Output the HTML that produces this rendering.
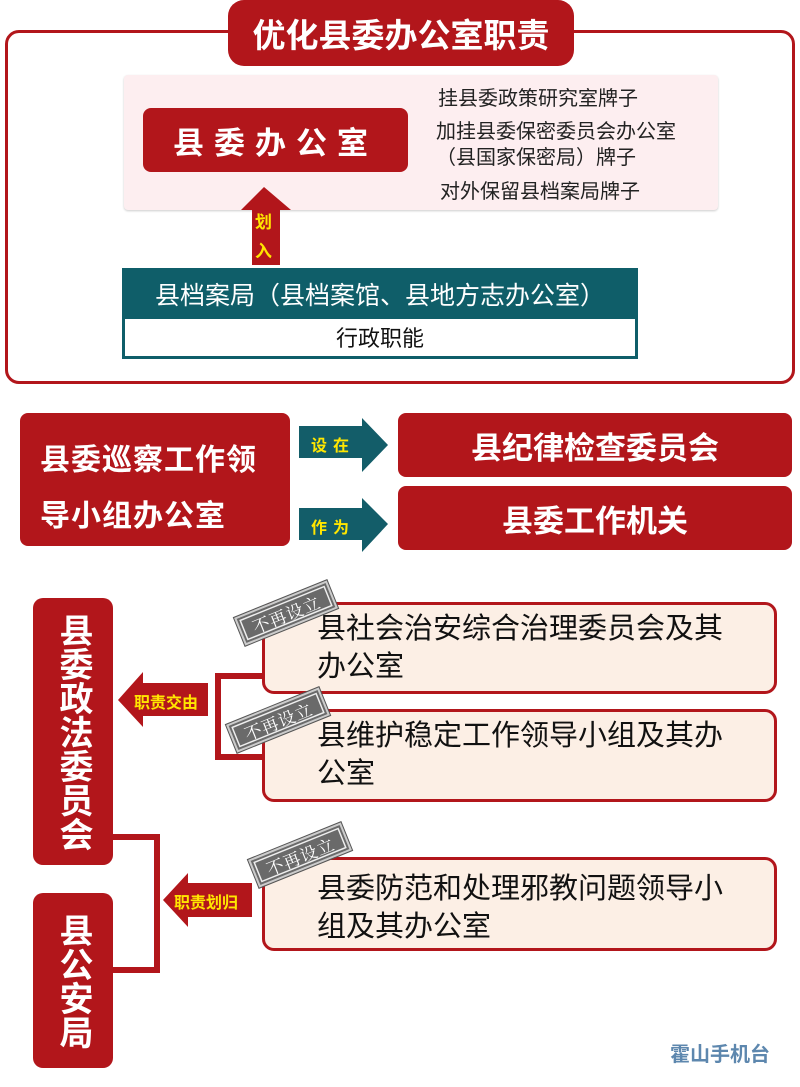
<!DOCTYPE html>
<html><head><meta charset="utf-8"><style>
*{margin:0;padding:0;box-sizing:border-box}
body{width:800px;height:1087px;background:#fff;position:relative;overflow:hidden;font-family:"Liberation Sans","Noto Sans CJK SC",sans-serif}
.a{position:absolute}
.red{background:#b2161b;color:#fff;border-radius:8px}
.c{display:flex;align-items:center;justify-content:center}
.card{position:absolute;left:262px;width:515px;background:#fcefe5;border:3px solid #b2161b;border-radius:12px;font-size:29px;color:#111;line-height:38px;padding:5px 0 0 52px;white-space:nowrap}
.stamp{position:absolute;width:100px;height:30px;background:#6a6a6a;border:2px solid #ccc;outline:1px solid #555;color:#fff;font-family:"Noto Serif CJK SC",serif;font-size:17px;display:flex;align-items:center;justify-content:center;transform:rotate(-22deg);box-shadow:inset 0 0 0 2px #6a6a6a,inset 0 0 0 3.5px #eee;letter-spacing:1px}
.yt{color:#ffe600;font-weight:bold}
.note{position:absolute;font-size:20px;color:#222;line-height:26px;white-space:nowrap}
</style></head><body>
<div class="a" style="left:5px;top:30px;width:790px;height:354px;border:3px solid #b2161b;border-radius:14px"></div>
<div class="a red c" style="left:228px;top:0;width:346px;height:66px;border-radius:16px;font-size:33px;font-weight:bold">优化县委办公室职责</div>
<div class="a" style="left:124px;top:75px;width:594px;height:135px;background:#fdeef0;border-radius:4px;box-shadow:0 1px 2px #ccc"></div>
<div class="a red c" style="left:143px;top:108px;width:265px;height:64px;font-size:31px;font-weight:bold;letter-spacing:10px">县委办公室</div>
<div class="note" style="left:438px;top:86px">挂县委政策研究室牌子</div>
<div class="note" style="left:436px;top:119px">加挂县委保密委员会办公室<br>（县国家保密局）牌子</div>
<div class="note" style="left:440px;top:179px">对外保留县档案局牌子</div>
<svg class="a" style="left:0;top:0" width="800" height="1087">
<polygon points="264,187 291,210 280,210 280,265 252,265 252,210 241,210" fill="#b2161b"/>
<polygon points="299,426 362,426 362,418 388,445 362,472 362,458 299,458" fill="#135d69"/>
<polygon points="299,508 362,508 362,498 388,524 362,552 362,540 299,540" fill="#135d69"/>
<polyline points="262,676 218,676 218,757 262,757" fill="none" stroke="#b2161b" stroke-width="6"/>
<polyline points="113,837 157,837 157,970 113,970" fill="none" stroke="#b2161b" stroke-width="6"/>
<polygon points="118,700 143,672 143,683 208,683 208,716 143,716 143,727" fill="#b2161b"/>
<polygon points="163,900 188,873 188,883 252,883 252,917 188,917 188,927" fill="#b2161b"/>
</svg>
<div class="a yt" style="left:255px;top:208px;font-size:17px">划</div>
<div class="a yt" style="left:255px;top:237px;font-size:17px">入</div>
<div class="a c" style="left:122px;top:268px;width:516px;height:51px;background:#0f5e69;color:#fff;font-size:25px;white-space:nowrap">县档案局（县档案馆、县地方志办公室）</div>
<div class="a c" style="left:122px;top:318px;width:516px;height:41px;border:3px solid #0f5e69;border-top:none;font-size:22px;color:#111">行政职能</div>
<div class="a red" style="left:20px;top:413px;width:270px;height:133px;font-size:30px;font-weight:bold;line-height:56px;padding:20px 0 0 20px;letter-spacing:1px;white-space:nowrap">县委巡察工作领<br>导小组办公室</div>
<div class="a yt" style="left:311px;top:432px;font-size:16px;letter-spacing:6px">设在</div>
<div class="a yt" style="left:311px;top:514px;font-size:16px;letter-spacing:6px">作为</div>
<div class="a red c" style="left:398px;top:413px;width:394px;height:64px;font-size:31px;font-weight:bold">县纪律检查委员会</div>
<div class="a red c" style="left:398px;top:486px;width:394px;height:64px;font-size:31px;font-weight:bold">县委工作机关</div>
<div class="a red c" style="left:33px;top:598px;width:80px;height:267px;border-radius:10px;font-size:34px;font-weight:bold;line-height:38px;text-align:center;writing-mode:vertical-rl">县委政法委员会</div>
<div class="a red c" style="left:33px;top:893px;width:80px;height:175px;border-radius:10px;font-size:34px;font-weight:bold;line-height:38px;writing-mode:vertical-rl">县公安局</div>
<div class="a yt" style="left:134px;top:689px;font-size:16px">职责交由</div>
<div class="a yt" style="left:174px;top:889px;font-size:16px">职责划归</div>
<div class="card" style="top:602px;height:92px">县社会治安综合治理委员会及其<br>办公室</div>
<div class="card" style="top:709px;height:93px">县维护稳定工作领导小组及其办<br>公室</div>
<div class="card" style="top:857px;height:94px;padding-top:10px">县委防范和处理邪教问题领导小<br>组及其办公室</div>
<div class="stamp" style="left:236px;top:598px">不再设立</div>
<div class="stamp" style="left:228px;top:705px">不再设立</div>
<div class="stamp" style="left:250px;top:840px">不再设立</div>
<div class="a" style="left:670px;top:1038px;font-size:20px;font-weight:bold;color:#5d87ae">霍山手机台</div>
</body></html>
